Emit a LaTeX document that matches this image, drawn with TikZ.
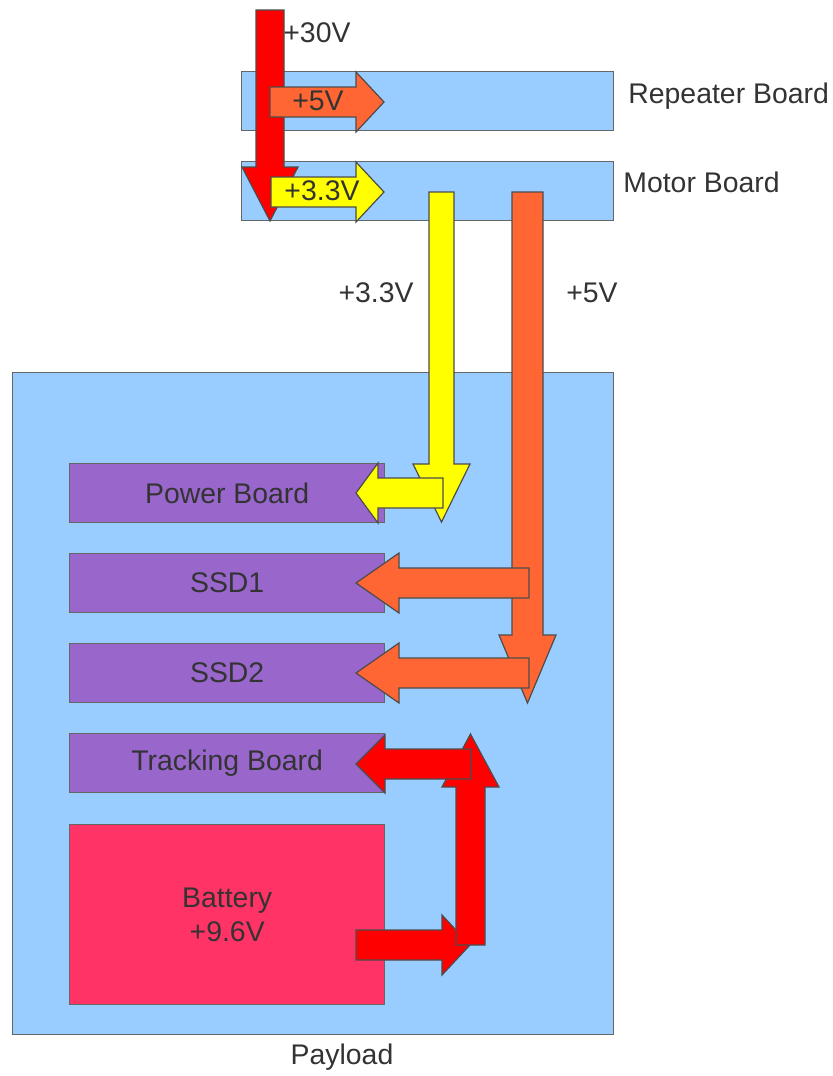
\documentclass[tikz,border=0pt]{standalone}
\usepackage{fontspec}
\setmainfont{Liberation Sans}
\usepackage{xcolor}
\definecolor{boardblue}{HTML}{99CCFF}
\definecolor{unitpurple}{HTML}{9966CC}
\definecolor{battpink}{HTML}{FF3366}
\definecolor{railorange}{HTML}{FF6633}
\definecolor{railyellow}{HTML}{FFFF00}
\definecolor{railred}{HTML}{FF0000}
\definecolor{textgrey}{HTML}{333333}

\begin{document}
\begin{tikzpicture}[
    x=0.5pt, y=-0.5pt,
    every node/.style={text=textgrey, font=\fontsize{14.2}{17}\selectfont},
    board/.style={
        draw=black!60, fill=boardblue, line width=0.7pt,
        anchor=north west, inner sep=0pt,
        minimum width=186pt, minimum height=29.5pt
    },
    unit/.style={
        draw=black!60, fill=unitpurple, line width=0.7pt,
        anchor=north west, inner sep=0pt, align=center,
        minimum width=157.5pt, minimum height=29.5pt
    },
    side label/.style={anchor=base west, inner sep=0pt},
    pics/power arrow/.style n args={4}{
        code={
            \draw[pic actions] (0,-#2/2) -- ({#1-#4},-#2/2) -- ({#1-#4},-#3/2)
                -- (#1,0) -- ({#1-#4},#3/2) -- ({#1-#4},#2/2) -- (0,#2/2) -- cycle;
        }
    },
    rail/.style={draw=black!70, line width=0.6pt, line join=miter}
  ]

  \useasboundingbox (0,0) rectangle (833,1076);

  % boards
  \node[board] (repeater) at (241,71) {};
  \node[board] (motor) at (241,161) {};
  \node[side label] (repeater_lbl) at (628,103) {Repeater Board};
  \node[side label] (motor_lbl) at (623,192) {Motor Board};

  \node[board, minimum width=300.5pt, minimum height=331pt] (payload) at (12,372) {};
  \node (payload_lbl) at (342,1057) {Payload};

  \node[unit] (power) at (69,463) {Power Board};
  \node[unit] (ssd1) at (69,553) {SSD1};
  \node[unit] (ssd2) at (69,643) {SSD2};
  \node[unit] (tracking) at (69,733) {Tracking Board};
  \node[unit, fill=battpink, minimum height=90pt] (battery) at (69,824) {Battery\\+9.6V};

  % +30V feed
  \pic[rail, fill=railred, rotate=-90] at (270,10) {power arrow={211}{28}{56}{54}};
  \node[side label] (v30) at (283,42) {+30V};

  \pic[rail, fill=railorange] at (270,102) {power arrow={114}{30}{60}{28}};
  \node (v5_rep) at (318,101) {+5V};
  \pic[rail, fill=railyellow] at (271,192) {power arrow={113}{30}{60}{28}};
  \node (v33_mot) at (322,191) {+3.3V};

  % +3.3V rail
  \pic[rail, fill=railyellow, rotate=-90] at (441.5,192) {power arrow={330}{25}{57}{58}};
  \pic[rail, fill=railyellow, rotate=180] at (443,493) {power arrow={87}{30}{60}{22}};
  \node (v33) at (376,293) {+3.3V};

  % +5V rail
  \pic[rail, fill=railorange, rotate=-90] at (527.5,192) {power arrow={511}{31}{57}{68}};
  \pic[rail, fill=railorange, rotate=180] at (529,583) {power arrow={173}{30}{60}{43}};
  \pic[rail, fill=railorange, rotate=180] at (529,673) {power arrow={173}{30}{60}{43}};
  \node (v5) at (592,293) {+5V};

  % battery loop
  \pic[rail, fill=railred] at (356,945) {power arrow={114}{30}{60}{28}};
  \pic[rail, fill=railred, rotate=90] at (470.5,945) {power arrow={211}{29}{57}{53}};
  \pic[rail, fill=railred, rotate=180] at (471,764) {power arrow={115}{30}{58}{29}};

\end{tikzpicture}
\end{document}
